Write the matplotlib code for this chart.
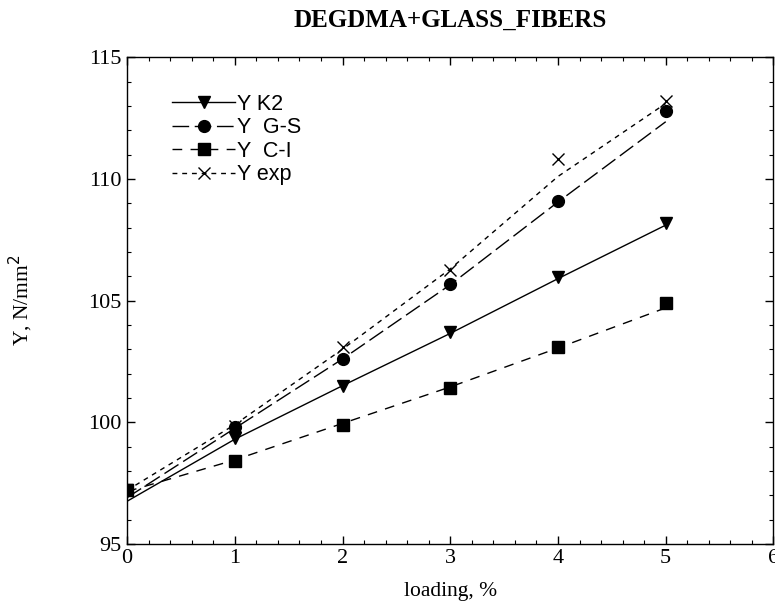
import matplotlib
matplotlib.use("Agg")
import matplotlib.pyplot as plt
from matplotlib.ticker import MultipleLocator

# loading, %
loading = [0, 1, 2, 3, 4, 5]

# measured / computed points
y_k2 = [97.2, 99.35, 101.5, 103.7, 105.95, 108.2]
y_gs = [97.2, 99.8, 102.6, 105.7, 109.1, 112.8]
y_ci = [97.2, 98.4, 99.9, 101.4, 103.1, 104.9]
y_exp = [97.2, 99.85, 103.1, 106.25, 110.8, 113.2]

# fitted curves
fit_k2 = [96.75, 99.3, 101.5, 103.65, 105.9, 108.1]
fit_gs = [96.9, 99.75, 102.6, 105.65, 109.05, 112.35]
fit_ci = [97.15, 98.45, 99.95, 101.45, 103.05, 104.7]
fit_exp = [97.2, 99.9, 103.0, 106.3, 110.1, 113.1]

plt.rcParams['font.family'] = ['Liberation Serif', 'DejaVu Serif']

fig = plt.figure(figsize=(7.75, 6.09), dpi=100)
ax = fig.add_axes([0.164, 0.107, 0.834, 0.799])

gs_dash = (12, 4)
ci_dash = (7, 6)
exp_dash = (3.5, 3.5)

# fitted lines
ax.plot(loading, fit_k2, color='k', lw=1.0)
ax.plot(loading, fit_gs, color='k', lw=1.0, dashes=gs_dash)
ax.plot(loading, fit_ci, color='k', lw=1.0, dashes=ci_dash)
ax.plot(loading, fit_exp, color='k', lw=1.0, dashes=exp_dash)

# markers
ax.plot(loading, y_k2, 'v', color='k', ms=9)
ax.plot(loading, y_gs, 'o', color='k', ms=8.5)
ax.plot(loading[:1], y_ci[:1], 's', color='k', ms=9)
ax.plot(loading[1:], y_ci[1:], 's', color='k', ms=8.5)
ax.plot(loading[1:], y_exp[1:], 'x', color='k', ms=9, mew=1.0)

# legend proxies
h1, = ax.plot([], [], color='k', lw=1.0, marker='v', ms=9, label='Y K2')
h2, = ax.plot([], [], color='k', lw=1.0, dashes=gs_dash, marker='o', ms=8.5, label='Y  G-S')
h3, = ax.plot([], [], color='k', lw=1.0, dashes=ci_dash, marker='s', ms=8.5, label='Y  C-I')
h4, = ax.plot([], [], color='k', lw=1.0, dashes=exp_dash, marker='x', ms=9, label='Y exp')
leg = ax.legend(handles=[h1, h2, h3, h4], loc='upper left',
                bbox_to_anchor=(0.07, 0.925), frameon=False, handlelength=2.9,
                handletextpad=0.1, labelspacing=0.12, borderpad=0, borderaxespad=0,
                prop={'family': 'Liberation Sans', 'size': 15.5})

ax.set_xlim(0, 6)
ax.set_ylim(95, 115)
ax.xaxis.set_major_locator(MultipleLocator(1))
ax.xaxis.set_minor_locator(MultipleLocator(0.2))
ax.yaxis.set_major_locator(MultipleLocator(5))
ax.yaxis.set_minor_locator(MultipleLocator(1))
ax.tick_params(which='both', direction='in', top=True, right=True, labelsize=16)
ax.tick_params(which='major', length=6, width=1, pad=4)
ax.tick_params(which='minor', length=3, width=0.8)
for s in ax.spines.values():
    s.set_linewidth(1.0)

ax.set_xlabel('loading, %', fontsize=15.5, labelpad=10)
ax.set_ylabel('Y, N/mm$^2$', fontsize=15.5, labelpad=38)
ax.set_title('DEGDMA+GLASS_FIBERS', fontsize=18, fontweight='bold', pad=22)

fig.savefig('out.png', dpi=100)
